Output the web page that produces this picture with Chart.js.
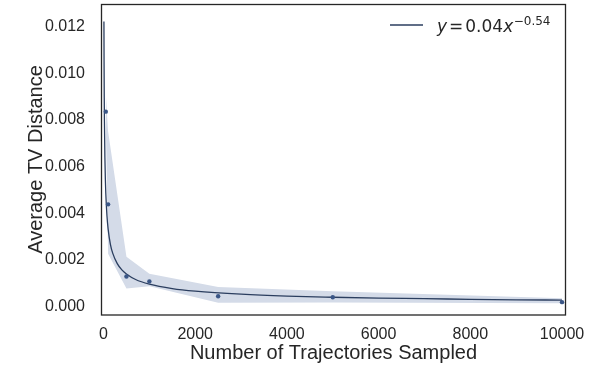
<!DOCTYPE html>
<html>
<head>
<meta charset="utf-8">
<script src="https://cdn.jsdelivr.net/npm/chart.js@4"></script>
<style>
  html, body { margin: 0; padding: 0; background: #fff; }
</style>
</head>
<body>
<canvas id="chart" width="616" height="390"></canvas>
<script>
// measured points (number of trajectories -> average TV distance)
const sampleX = [50, 100, 500, 1000, 2500, 5000, 10000];
const meanTV = [0.00835, 0.00438, 0.00129, 0.00108, 0.00044, 0.00040, 0.00019];
const bandUpper = [0.0091, 0.0075, 0.00213, 0.00141, 0.00084, 0.00066, 0.00036];
const bandLower = [0.0078, 0.00226, 0.00078, 0.00087, 0.00016, 0.00018, 0.00014];

// fitted curve
const fitX = [9, 12, 16, 20, 30, 40, 50, 75, 100, 150, 200, 300, 400, 500, 700, 1000,
              1500, 2000, 3000, 4000, 5000, 6000, 7000, 8000, 9000, 10000];
const fitY = [0.01221, 0.01046, 0.00895, 0.00794, 0.00637, 0.00546, 0.00484, 0.00389,
              0.00333, 0.00267, 0.00229, 0.00184, 0.00157, 0.00140, 0.00116, 0.00096,
              0.00077, 0.00066, 0.00053, 0.00045, 0.00040, 0.00036, 0.00034, 0.00031,
              0.00029, 0.00028];

const xTicks = [0, 2000, 4000, 6000, 8000, 10000];
const yTicks = [0, 0.002, 0.004, 0.006, 0.008, 0.010, 0.012];

const lineColor = '#2b3e5f';
const dotColor = '#3a5686';
const bandColor = 'rgb(212,219,232)';
const textColor = '#262626';

const toXY = (xs, ys) => xs.map((x, i) => ({ x: x, y: ys[i] }));

// box around the plot + the legend with superscript
const framePlugin = {
  id: 'frame',
  afterDraw(chart) {
    const { ctx, chartArea: a } = chart;
    ctx.save();
    ctx.strokeStyle = textColor;
    ctx.lineWidth = 1.3;
    ctx.strokeRect(a.left + 0.5, a.top + 0.5, a.right - a.left - 1, a.bottom - a.top - 0.5);

    ctx.strokeStyle = lineColor;
    ctx.lineWidth = 1.3;
    ctx.beginPath();
    ctx.moveTo(390, 25);
    ctx.lineTo(423, 25);
    ctx.stroke();

    ctx.fillStyle = textColor;
    ctx.textBaseline = 'alphabetic';
    let x = 437;
    const base = 32;
    const parts = [
      ['italic 17px "DejaVu Sans"', 'y', 0, 2],
      ['17px "DejaVu Sans"', '=', 0, 2],
      ['17px "DejaVu Sans"', '0.04', 0, 0],
      ['italic 17px "DejaVu Sans"', 'x', 0, 0.5],
      ['12px "DejaVu Sans"', '\u22120.54', -7.5, 0]
    ];
    parts.forEach(p => {
      ctx.font = p[0];
      ctx.fillText(p[1], x, base + p[2]);
      x += ctx.measureText(p[1]).width + p[3];
    });
    ctx.restore();
  }
};

new Chart(document.getElementById('chart').getContext('2d'), {
  type: 'line',
  data: {
    datasets: [
      { data: toXY(sampleX, bandLower), borderWidth: 0, pointRadius: 0, fill: false, order: 4 },
      { data: toXY(sampleX, bandUpper), borderWidth: 0, pointRadius: 0, fill: '-1',
        backgroundColor: bandColor, order: 3 },
      { data: toXY(fitX, fitY), borderColor: lineColor, borderWidth: 1.3, pointRadius: 0,
        cubicInterpolationMode: 'monotone', fill: false, order: 1 },
      { data: toXY(sampleX, meanTV), showLine: false, pointRadius: 2.2, pointBorderWidth: 0,
        pointBackgroundColor: dotColor, fill: false, order: 0 }
    ]
  },
  options: {
    responsive: false,
    animation: false,
    devicePixelRatio: 1,
    layout: { padding: { top: 0, right: 50, left: 0, bottom: 0 } },
    plugins: { legend: { display: false }, tooltip: { enabled: false } },
    scales: {
      x: {
        type: 'linear',
        min: -55,
        max: 10087,
        grid: { display: false },
        border: { display: false },
        afterBuildTicks: s => { s.ticks = xTicks.map(v => ({ value: v })); },
        afterFit: s => { s.height = 75; s.paddingLeft = 0; s.paddingRight = 0; },
        ticks: {
          color: textColor,
          padding: 2,
          maxRotation: 0,
          font: { family: '"Liberation Sans", Arial, sans-serif', size: 16 },
          callback: v => String(v)
        },
        title: {
          display: true,
          text: 'Number of Trajectories Sampled',
          color: textColor,
          font: { family: '"Liberation Sans", Arial, sans-serif', size: 20 },
          padding: { top: 0, bottom: 25 }
        }
      },
      y: {
        min: -0.00036,
        max: 0.01296,
        grid: { display: false },
        border: { display: false },
        afterBuildTicks: s => { s.ticks = yTicks.map(v => ({ value: v })); },
        afterFit: s => { s.width = 101; s.paddingTop = 0; s.paddingBottom = 0; },
        ticks: {
          color: textColor,
          padding: 8,
          font: { family: '"Liberation Sans", Arial, sans-serif', size: 16 },
          callback: v => v.toFixed(3)
        },
        title: {
          display: true,
          text: 'Average TV Distance',
          color: textColor,
          font: { family: '"Liberation Sans", Arial, sans-serif', size: 20 },
          padding: { top: 24, bottom: 0 }
        }
      }
    }
  },
  plugins: [framePlugin]
});
</script>
</body>
</html>
